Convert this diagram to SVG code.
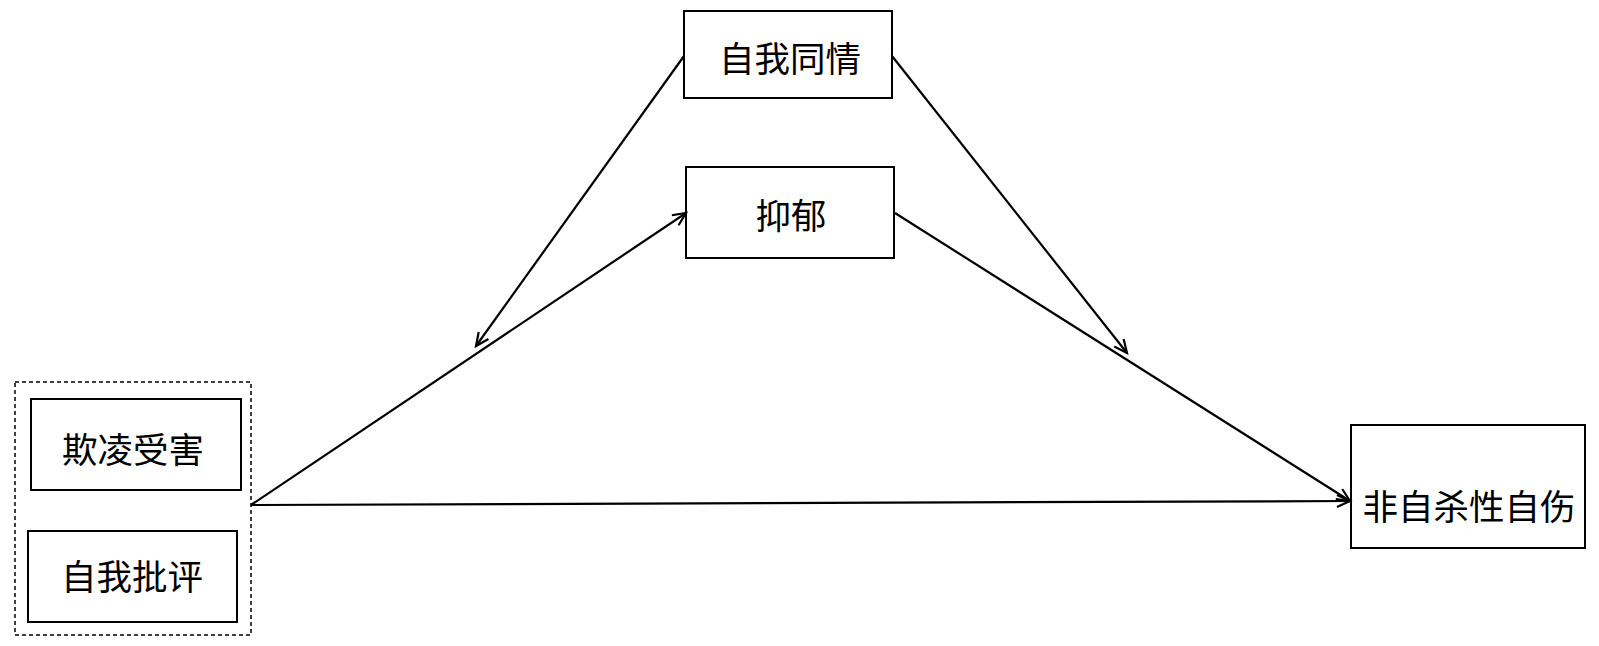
<svg xmlns="http://www.w3.org/2000/svg" width="1599" height="646" viewBox="0 0 1599 646">
<style>
.box{fill:#fff;stroke:#000;stroke-width:2}
.dash{fill:none;stroke:#000;stroke-width:1.5;stroke-dasharray:4 3}
.lbl{font-family:"Microsoft YaHei","Noto Sans CJK SC",sans-serif;font-size:35.5px;fill:#000;text-anchor:middle;dominant-baseline:central}
.edge{fill:none;stroke:#000;stroke-width:2.2}
</style>
<defs>
<marker id="arr" markerUnits="userSpaceOnUse" markerWidth="20" markerHeight="20" refX="14" refY="7" orient="auto">
<path d="M1,1 L14,7 L1,13" fill="none" stroke="#000" stroke-width="2.2"/>
</marker>
</defs>
<g id="group-left">
<rect class="dash" x="15" y="382" width="236" height="253"/>
</g>
<g id="node-bullying">
<rect class="box" x="31" y="399" width="210" height="91"/>
<text class="lbl" x="133" y="447">欺凌受害</text>
</g>
<g id="node-selfcriticism">
<rect class="box" x="28" y="531" width="209" height="91"/>
<text class="lbl" x="132" y="574">自我批评</text>
</g>
<g id="node-selfcompassion">
<rect class="box" x="684" y="11" width="208" height="87"/>
<text class="lbl" x="790" y="56">自我同情</text>
</g>
<g id="node-depression">
<rect class="box" x="686" y="167" width="208" height="91"/>
<text class="lbl" x="791" y="213">抑郁</text>
</g>
<g id="node-nssi">
<rect class="box" x="1351" y="425" width="234" height="123"/>
<text class="lbl" x="1469" y="504">非自杀性自伤</text>
</g>
<g id="connectors">
<line class="edge" x1="251" y1="505" x2="686" y2="213" marker-end="url(#arr)"/>
<line class="edge" x1="251" y1="505" x2="1350" y2="501" marker-end="url(#arr)"/>
<line class="edge" x1="895" y1="213" x2="1350" y2="501" marker-end="url(#arr)"/>
<line class="edge" x1="684" y1="56" x2="476" y2="346" marker-end="url(#arr)"/>
<line class="edge" x1="892" y1="56" x2="1127" y2="353" marker-end="url(#arr)"/>
</g>
</svg>
